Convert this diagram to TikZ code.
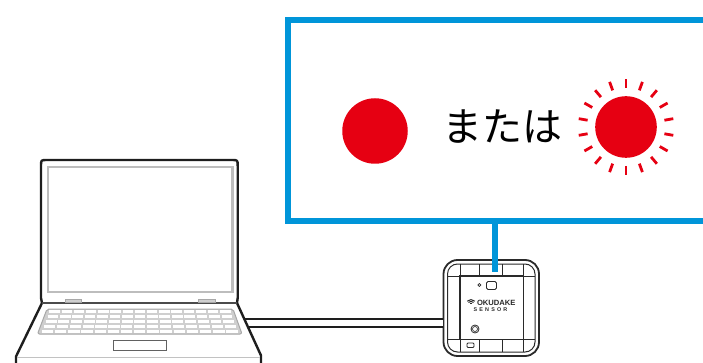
\documentclass[tikz,border=0pt]{standalone}
\usepackage{fontspec}
\newfontfamily\jpfont{Noto Sans CJK JP}
\newfontfamily\logofont{Liberation Sans}
\definecolor{panelblue}{HTML}{0095D9}
\definecolor{lampred}{HTML}{E60012}
\definecolor{inkdark}{HTML}{1E1E1E}
\definecolor{screengray}{HTML}{BDBDBD}
\definecolor{keygray}{HTML}{CFCFCF}
\definecolor{keyedge}{HTML}{A8A8A8}
\definecolor{devink}{HTML}{2A2A2A}
\begin{document}
\begin{tikzpicture}[x=1pt,y=-1pt,
  panelbox/.style={draw=panelblue,line width=6pt,inner sep=0pt},
  bluelink/.style={draw=panelblue,line width=6pt},
  lamp/.style={circle,fill=lampred,inner sep=0pt},
  ray/.style={draw=lampred,line width=2.8pt},
  outline/.style={draw=inkdark,line width=2.4pt,line join=round},
  cable/.style={draw=inkdark,line width=2pt,double=white,double distance=5.5pt},
  devbody/.style={draw=devink,line width=1.8pt,fill=white,rounded corners=14pt,inner sep=0pt},
  devline/.style={draw=devink,line width=1pt},
  logo/.style={font=\logofont\bfseries\fontsize{7.6}{8}\selectfont,inner sep=0pt,text=devink}
]
\clip (0,0) rectangle (703,363);

% status panel with the two lamp states
\node[panelbox,minimum width=432pt,minimum height=200.5pt] (panel) at (504,120.75) {};
\node[lamp,minimum size=65.5pt] (steady) at (375,131) {};
\node[font=\jpfont\fontsize{40}{40}\selectfont,inner sep=0pt] (or) at (502.5,127) {または};
\node[lamp,minimum size=61.6pt] (blink) at (626,127) {};
\foreach \a in {10,30,...,350}
  \draw[ray] (blink.center) ++(\a:39) -- ++(\a:9);

% laptop
\coordinate (cableL) at (238,322.8);
\node[devbody,minimum width=95.5pt,minimum height=96pt] (sensor) at (491.25,308) {};
\draw[cable] (cableL) -- (cableL -| sensor.west);
\fill[white] (16,370) -- (16,356.5) -- (42,303) -- (237,303) -- (261,355.5) -- (261,370) -- cycle;
\draw[screengray,line width=2.4pt] (47.7,167.3) rectangle (232.3,291.7);
\draw[outline] (16,370) -- (16,356.5) -- (42,303) -- (41,298) -- (41,166)
  .. controls (41,160) .. (47,160) -- (231.7,160) .. controls (237.7,160) .. (237.7,166)
  -- (237.7,298) -- (237,303) -- (261,355.5) -- (261,370);
\draw[inkdark!80,line width=1.2pt] (42,303) -- (237,303);
\draw[keyedge!70,line width=1pt] (17,357.5) -- (260,357.5);
\draw[keyedge,fill=keygray,line width=0.8pt] (65,299.5) rectangle (81.5,302.5);
\draw[keyedge,fill=keygray,line width=0.8pt] (198.3,299.5) rectangle (215,302.5);
% keyboard
\path[fill=keygray,draw=keyedge,line width=1pt,rounded corners=2pt]
  (47,309) -- (233,309) -- (242,334) -- (37.5,334) -- cycle;
\foreach \r in {0,...,4}{
  \pgfmathsetmacro\yy{311.5+5*\r}
  \pgfmathsetmacro\xl{49.5-(\yy-309)*0.38}
  \pgfmathsetmacro\xr{230.5+(\yy-309)*0.36}
  \pgfmathsetmacro\kw{(\xr-\xl)/15}
  \foreach \k in {0,...,14}
    \draw[white,line width=2.2pt] (\xl+\k*\kw+0.9,\yy) -- (\xl+\k*\kw+\kw-0.9,\yy);
}
\draw[draw=inkdark!70,line width=1pt,fill=white] (113,340) rectangle (166,350);

% sensor unit
\draw[devline,rounded corners=10pt] (447.5,264) rectangle (535,352);
\draw[devline,line width=1.2pt] (460,276) rectangle (523.3,339.3);
\draw[devline] (460,264) -- (460,276) (523.3,264) -- (523.3,276)
  (460,339.3) -- (460,352) (523.3,339.3) -- (523.3,352)
  (447.5,276) -- (460,276) (523.3,276) -- (535,276)
  (447.5,339.3) -- (460,339.3) (523.3,339.3) -- (535,339.3)
  (479.3,264) -- (479.3,276) (502,264) -- (502,276)
  (479,339.3) -- (479,352) (502,339.3) -- (502,352);
\draw[devline,line width=0.7pt] (479.3,285) circle[radius=1.5];
\draw[devline,line width=0.8pt,rounded corners=1.5pt] (486.5,281.5) rectangle (496.5,289.5);
\foreach \rr in {1.8,3.6,5.4}
  \draw[devline,line width=1pt] (471,305) ++(-45:\rr) arc[start angle=-45,end angle=-135,radius=\rr];
\node[logo,anchor=west] (brand) at (476.8,302.6) {OKUDAKE};
\node[logo,anchor=west,font=\logofont\bfseries\fontsize{5.4}{6}\selectfont\addfontfeatures{LetterSpace=40}] (brand2) at (473.5,309.2) {SENSOR};
\draw[devline,line width=0.8pt] (475,329) circle[radius=4];
\draw[devline,line width=0.6pt] (475,329) circle[radius=2.5];
\draw[devline,line width=0.8pt,rounded corners=1pt] (467,343) rectangle (474,347.5);

% link from the sensor to the panel
\coordinate (plug) at (495,272);
\draw[bluelink] (plug |- panel.south) -- (plug);
\end{tikzpicture}
\end{document}
